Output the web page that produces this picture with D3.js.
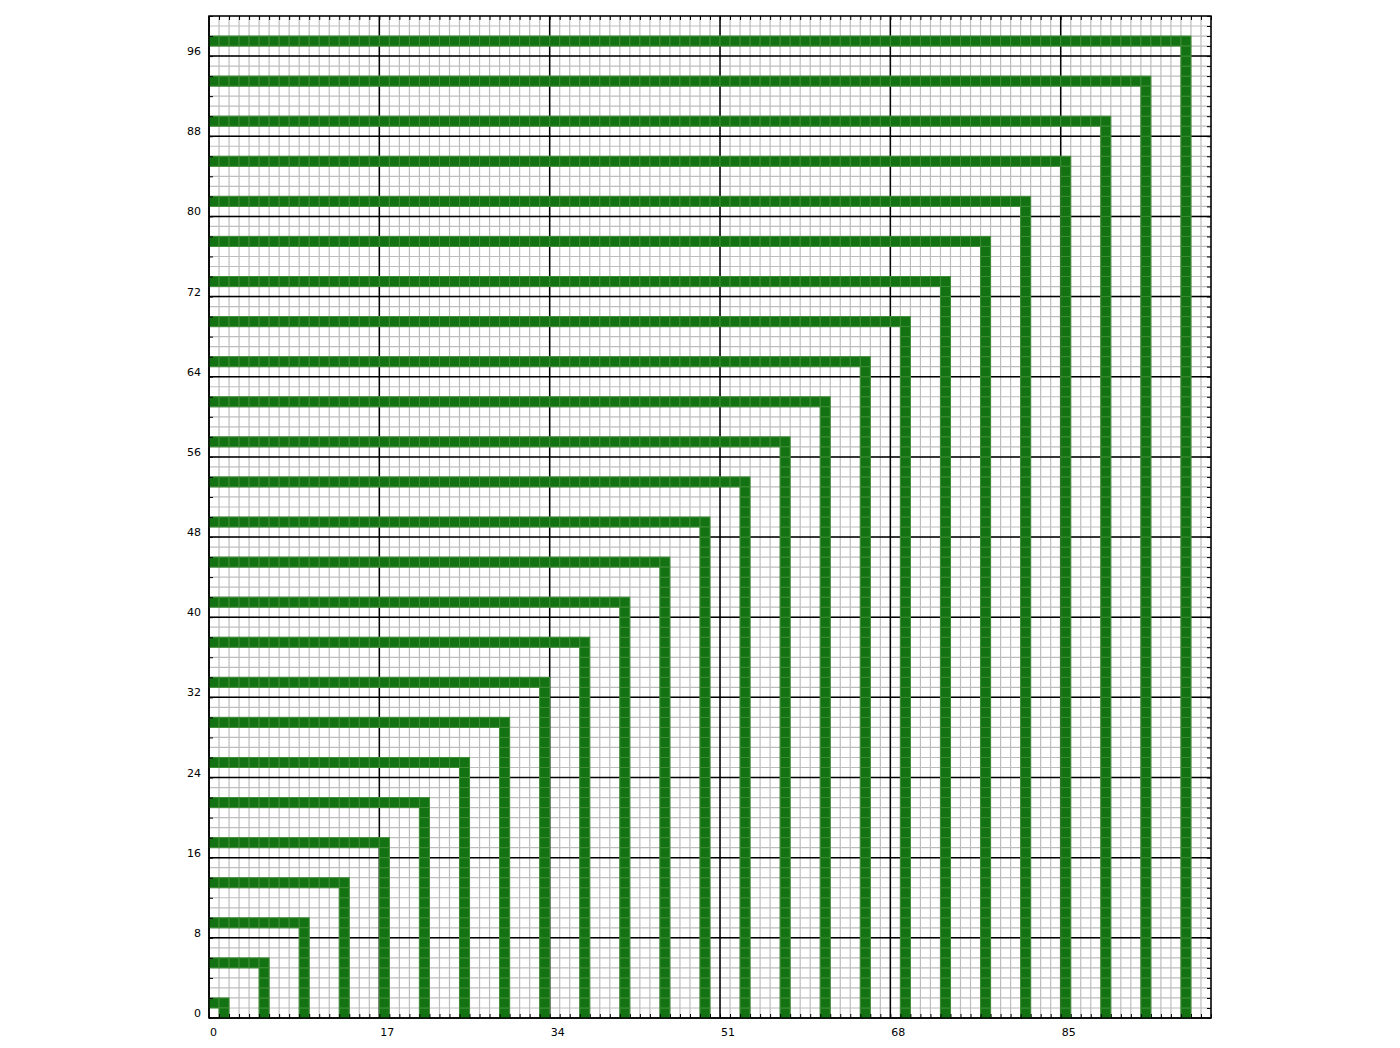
<!DOCTYPE html>
<html><head><meta charset="utf-8">
<script src="https://cdn.jsdelivr.net/npm/d3@7"></script>
<style>body{margin:0;background:#fff}svg{display:block}text{font-family:"DejaVu Sans",sans-serif;font-size:11px;fill:#000}</style>
</head><body><svg id="c" width="1400" height="1048"></svg>
<script>
const lSizes = [1,5,9,13,17,21,25,29,33,37,41,45,49,53,57,61,65,69,73,77,81,85,89,93,97];
const xTicks = [0,17,34,51,68,85];
const yTicks = [0,8,16,24,32,40,48,56,64,72,80,88,96];
const xDomain = [0,100], yDomain = [0,100];

const L = 209, R = 1211, T = 16, B = 1018;
const svg = d3.select('#c');
const x = d3.scaleLinear().domain(xDomain).range([L,R]);
const y = d3.scaleLinear().domain(yDomain).range([B,T]);

// cells from L sizes
const cells = [];
lSizes.forEach(k => {
  for (let i=0;i<=k;i++) cells.push({cx:i, cy:k});
  for (let j=0;j<k;j++) cells.push({cx:k, cy:j});
});

const g = svg.append('g');
const minor = d3.range(0,101);
g.selectAll('.vx').data(minor).join('line')
  .attr('x1',d=>x(d)).attr('x2',d=>x(d)).attr('y1',T).attr('y2',B)
  .attr('stroke','#bdbdbd').attr('stroke-width',1.2);
g.selectAll('.hy').data(minor).join('line')
  .attr('y1',d=>y(d)).attr('y2',d=>y(d)).attr('x1',L).attr('x2',R)
  .attr('stroke','#bdbdbd').attr('stroke-width',1.2);
g.selectAll('.mx').data(xTicks).join('line')
  .attr('x1',d=>x(d)).attr('x2',d=>x(d)).attr('y1',T).attr('y2',B)
  .attr('stroke','#000').attr('stroke-width',1.5);
g.selectAll('.my').data(yTicks).join('line')
  .attr('y1',d=>y(d)).attr('y2',d=>y(d)).attr('x1',L).attr('x2',R)
  .attr('stroke','#000').attr('stroke-width',1.5);

g.selectAll('rect.cell').data(cells).join('rect')
  .attr('x',d=>x(d.cx)).attr('y',d=>y(d.cy+1))
  .attr('width',d=>x(d.cx+1)-x(d.cx)).attr('height',d=>y(d.cy)-y(d.cy+1))
  .attr('fill','#137212').attr('stroke','#3f8c37').attr('stroke-width',1);

// axes with inward minor ticks
const ax = svg.append('g');
ax.append('g').attr('transform',`translate(0,${B})`)
  .call(d3.axisBottom(x).tickValues(minor).tickSize(-4).tickFormat(''))
  .call(s=>s.select('.domain').remove());
ax.append('g').attr('transform',`translate(0,${T})`)
  .call(d3.axisTop(x).tickValues(minor).tickSize(-4).tickFormat(''))
  .call(s=>s.select('.domain').remove());
ax.append('g').attr('transform',`translate(${L},0)`)
  .call(d3.axisLeft(y).tickValues(d3.range(0,101,2)).tickSize(-4).tickFormat(''))
  .call(s=>s.select('.domain').remove());
ax.append('g').attr('transform',`translate(${R},0)`)
  .call(d3.axisRight(y).tickValues(minor).tickSize(-4).tickFormat(''))
  .call(s=>s.select('.domain').remove());
ax.selectAll('.tick line').attr('stroke','#000');

svg.append('rect').attr('x',L).attr('y',T).attr('width',R-L).attr('height',B-T)
  .attr('fill','none').attr('stroke','#000').attr('stroke-width',1.5);

svg.selectAll('text.xl').data(xTicks).join('text')
  .attr('x',d=>x(d)+1).attr('y',B+18).attr('text-anchor','start').text(d=>d);
svg.selectAll('text.yl').data(yTicks).join('text')
  .attr('x',L-8).attr('y',d=>y(d)-1).attr('text-anchor','end').text(d=>d);
</script></body></html>
